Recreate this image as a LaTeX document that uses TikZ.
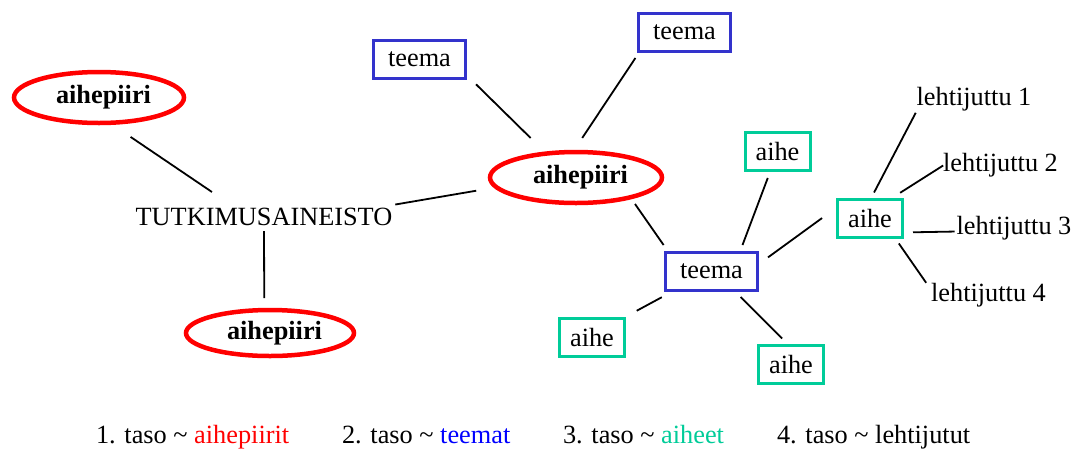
\documentclass[tikz,border=0pt]{standalone}
\usepackage{fontspec}
\setmainfont{Liberation Serif}
\usetikzlibrary{shapes.geometric}
\definecolor{redE}{RGB}{255,0,0}
\definecolor{blueB}{RGB}{51,51,204}
\definecolor{tealB}{RGB}{0,204,153}
\definecolor{blueL}{RGB}{0,0,255}
\begin{document}
\begin{tikzpicture}[x=1pt,y=-1pt,
  every node/.style={font=\fontsize{26.3}{30}\selectfont, outer sep=0pt},
  topic/.style={ellipse, draw=redE, line width=4.5pt, inner sep=0pt, font=\fontsize{26.3}{30}\selectfont\bfseries},
  theme/.style={rectangle, draw=blueB, line width=3pt, inner sep=0pt, minimum width=92pt, minimum height=38pt},
  subj/.style={rectangle, draw=tealB, line width=3pt, inner sep=0pt, minimum width=65pt, minimum height=38pt},
  article/.style={inner sep=0pt, text height=18pt, text depth=6pt},
  legend/.style={anchor=base west, inner sep=0pt},
  link/.style={line width=1.8pt}]
\useasboundingbox (0,0) rectangle (1077,448);

% nodes
\node[topic, minimum width=170pt, minimum height=51pt] (e1) at (99,97.5) {\hspace*{9pt}aihepiiri};
\node[topic, minimum width=168pt, minimum height=46pt] (e2) at (270,333) {\hspace*{9pt}aihepiiri};
\node[topic, minimum width=172pt, minimum height=51pt] (e3) at (576,177.5) {\hspace*{9pt}aihepiiri};
\node[inner xsep=0pt, inner ysep=4pt, text height=17.5pt, text depth=0pt] (root) at (264,216.25) {TUTKIMUSAINEISTO};
\node[theme] (t1) at (419.5,59) {teema};
\node[theme] (t2) at (684.5,32.5) {teema};
\node[theme] (t3) at (711.5,271.5) {teema};
\node[subj] (a1) at (777.5,151.5) {aihe};
\node[subj] (a2) at (870,218) {aihe};
\node[subj] (a3) at (592,337.5) {aihe};
\node[subj] (a4) at (791,364) {aihe};
\node[article] (l1) at (974,99) {lehtijuttu 1};
\node[article] (l2) at (1000.5,165.5) {lehtijuttu 2};
\node[article] (l3) at (1014,228.5) {lehtijuttu 3};
\node[article] (l4) at (988.5,295) {lehtijuttu 4};

% legend
\node[legend] (k1) at (96,443) {1. taso \textasciitilde{} \textcolor{redE}{aihepiirit}};
\node[legend] (k2) at (342,443) {2. taso \textasciitilde{} \textcolor{blueL}{teemat}};
\node[legend] (k3) at (563,443) {3. taso \textasciitilde{} \textcolor{tealB}{aiheet}};
\node[legend] (k4) at (777,443) {4. taso \textasciitilde{} lehtijutut};

% connectors
\draw[link, shorten <=25.2pt, shorten >=20.5pt] (e1.293.7) -- (root.160);
\draw[link, shorten <=2pt, shorten >=12pt] (root.south) -- (e2.104.7);
\draw[link, shorten <=3pt, shorten >=20.6pt] (root.5.2) -- (e3.187.4);
\draw[link, shorten <=14.85pt, shorten >=22.15pt] (t1.342.5) -- (e3.141.8);
\draw[link, shorten <=7.8pt, shorten >=16.9pt] (t2.203.3) -- (e3.97.8);
\draw[link, shorten <=8.2pt, shorten >=9.1pt] (e3.340.1) -- (t3.156.4);
\draw[link, shorten <=8pt, shorten >=8pt] (t3.34.5) -- (a1.250.8);
\draw[link, shorten <=13pt, shorten >=19.1pt] (t3.8.5) -- (a2.161);
\draw[link, shorten <=14.1pt, shorten >=16.3pt] (t3.207.8) -- (a3.32.8);
\draw[link, shorten <=9.2pt, shorten >=9.2pt] (t3.320.4) -- (a4.97.3);
\draw[link, shorten <=7.3pt, shorten >=2pt] (a2.88) -- (l1.south west);
\draw[link, shorten <=11.6pt] (a2.43.7) -- (l2.west);
\draw[link, shorten <=10.5pt, shorten >=2pt] (a2.336.7) -- (l3.183.5);
\draw[link, shorten <=7.9pt, shorten >=8.8pt] (a2.322.6) -- (l4.175.1);
\end{tikzpicture}
\end{document}
